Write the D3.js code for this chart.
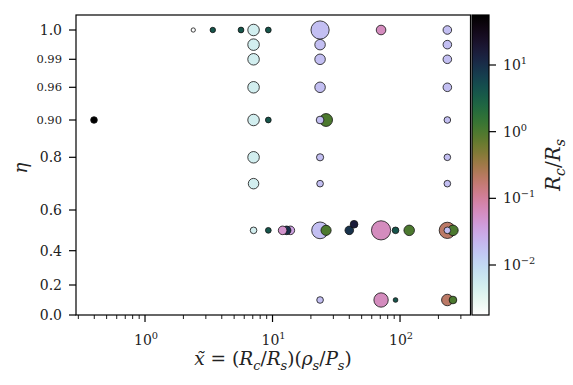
<!DOCTYPE html>
<html>
<head>
<meta charset="utf-8">
<script src="https://cdn.jsdelivr.net/npm/d3@7"></script>
<style>
  body { margin: 0; background: #fff; }
  svg { display: block; }
  text { font-family: "DejaVu Serif", serif; fill: #222; }
</style>
</head>
<body>
<svg id="chart"></svg>
<script>
// x~ = (Rc/Rs)(rho_s/P_s), eta, Rc/Rs (colour), marker size value — in drawing order
const xVals = [2.39, 3.40, 5.66, 7.1, 9.27, 23.6, 71, 235,
  7.1, 23.6, 235, 7.1, 23.6, 235, 7.1, 23.6, 235,
  0.398, 7.1, 9.27, 26.3, 23.6, 235,
  7.1, 23.6, 235, 7.1, 23.6, 235,
  7.1, 9.27, 13.8, 12.9, 12.0, 23.6, 26.3, 40.0, 43.6, 71, 92.2, 118, 235, 260, 235,
  23.6, 71, 92.2, 235, 260];
const etaVals = [1, 1, 1, 1, 1, 1, 1, 1,
  0.995, 0.995, 0.995, 0.99, 0.99, 0.99, 0.96, 0.96, 0.96,
  0.9, 0.9, 0.9, 0.9, 0.9, 0.9,
  0.8, 0.8, 0.8, 0.7, 0.7, 0.7,
  0.5, 0.5, 0.5, 0.5, 0.5, 0.5, 0.5, 0.5, 0.53, 0.5, 0.5, 0.5, 0.5, 0.5, 0.5,
  0.1, 0.1, 0.1, 0.1, 0.1];
const ratioVals = [0.0018, 4.0, 4.0, 0.005, 4.0, 0.018, 0.063, 0.018,
  0.005, 0.018, 0.018, 0.005, 0.018, 0.018, 0.005, 0.018, 0.018,
  56, 0.005, 4.0, 1.0, 0.018, 0.018,
  0.005, 0.018, 0.018, 0.005, 0.018, 0.018,
  0.005, 4.0, 0.035, 10, 0.05, 0.018, 1.0, 9, 16, 0.063, 4.0, 1.0, 0.2, 1.0, 0.018,
  0.018, 0.063, 4.0, 0.2, 1.0];
const sizeVals = [5, 8, 9, 36, 9, 90, 25, 20,
  36, 30, 20, 36, 30, 20, 36, 30, 20,
  12, 36, 9, 45, 16, 12,
  36, 14, 12, 30, 12, 12,
  12, 9, 20, 20, 20, 76, 28, 20, 16, 100, 12, 30, 72, 30, 12,
  12, 56, 6, 36, 16];

const etaTicks = [0, 0.2, 0.4, 0.6, 0.8, 0.9, 0.96, 0.99, 1.0];
const etaLabels = ['0.0', '0.2', '0.4', '0.6', '0.8', '0.90', '0.96', '0.99', '1.0'];
const smallEta = ['0.90', '0.96', '0.99'];
const xTickExp = [0, 1, 2];
const cbTickExp = [-2, -1, 0, 1];
const cbDomainLog = [-2.75, 1.75];

const W = 573, H = 385;
const m = { left: 76, right: 470.5, top: 15, bottom: 315 };
const cb = { left: 472, right: 489 };

const svg = d3.select('#chart').attr('width', W).attr('height', H);

const x = d3.scaleLog().domain([0.2876, 357]).range([m.left, m.right]);
// stretched eta axis, placed through the tick positions
const y = d3.scaleLinear()
  .domain(etaTicks)
  .range([0, 30, 64.3, 105, 157.7, 195, 227.7, 255.7, 285].map(h => m.bottom - h));
const r = d3.scaleSqrt().domain([0, 100]).range([0, 9.6]);
const cLog = d3.scaleLinear().domain(cbDomainLog).range([1, 0]);
const color = v => d3.interpolateCubehelixDefault(cLog(Math.log10(v)));

const points = xVals.map((d, i) => ({ x: d, eta: etaVals[i], c: ratioVals[i], s: sizeVals[i] }));

svg.append('g')
  .selectAll('circle')
  .data(points)
  .join('circle')
  .attr('cx', d => x(d.x))
  .attr('cy', d => y(d.eta))
  .attr('r', d => r(d.s))
  .attr('fill', d => color(d.c))
  .attr('stroke', '#111')
  .attr('stroke-width', 0.8);

// frame
svg.append('rect')
  .attr('x', m.left).attr('y', m.top)
  .attr('width', m.right - m.left).attr('height', m.bottom - m.top)
  .attr('fill', 'none').attr('stroke', '#000').attr('stroke-width', 1.2);

// helper for simple math-like text
function mathText(sel, parts, size) {
  let shift = 0;
  parts.forEach(p => {
    const ts = sel.append('tspan').text(p.t);
    if (p.i) ts.style('font-style', 'italic');
    const target = p.sub ? size * 0.25 : p.sup ? -size * 0.42 : 0;
    if (target !== shift) { ts.attr('dy', target - shift); shift = target; }
    ts.style('font-size', (p.sub || p.sup) ? (size * 0.7) + 'px' : size + 'px');
  });
}

// x axis
const xMajor = xTickExp.map(e => Math.pow(10, e));
const xMinor = [];
for (let e = -1; e <= 2; e++) for (let k = 2; k <= 9; k++) {
  const v = k * Math.pow(10, e);
  if (v > x.domain()[0] && v < x.domain()[1]) xMinor.push(v);
}
const xAxis = svg.append('g');
xAxis.selectAll('line.minor').data(xMinor).join('line')
  .attr('x1', d => x(d)).attr('x2', d => x(d))
  .attr('y1', m.bottom).attr('y2', m.bottom + 4)
  .attr('stroke', '#000').attr('stroke-width', 0.9);
xAxis.selectAll('line.major').data(xMajor).join('line')
  .attr('x1', d => x(d)).attr('x2', d => x(d))
  .attr('y1', m.bottom).attr('y2', m.bottom + 7)
  .attr('stroke', '#000').attr('stroke-width', 1.2);
xTickExp.forEach(e => {
  const t = xAxis.append('text')
    .attr('x', x(Math.pow(10, e)) + 1).attr('y', m.bottom + 30)
    .attr('text-anchor', 'middle');
  mathText(t, [{ t: '10' }, { t: String(e).replace('-', '\u2212'), sup: true }], 14);
});

// y axis
const yAxis = svg.append('g');
yAxis.selectAll('line').data(etaTicks).join('line')
  .attr('x1', m.left - 7).attr('x2', m.left)
  .attr('y1', d => y(d)).attr('y2', d => y(d))
  .attr('stroke', '#000').attr('stroke-width', 1.2);
yAxis.selectAll('text').data(etaTicks).join('text')
  .attr('x', m.left - 14)
  .attr('y', d => y(d))
  .attr('dy', '0.36em')
  .attr('text-anchor', 'end')
  .style('font-size', (d, i) => smallEta.includes(etaLabels[i]) ? '11.5px' : '14px')
  .text((d, i) => etaLabels[i]);

// axis titles
const xt = svg.append('text').attr('x', 273).attr('y', 365).attr('text-anchor', 'middle');
mathText(xt, [
  { t: 'x\u0303', i: true }, { t: ' = (' }, { t: 'R', i: true }, { t: 'c', i: true, sub: true },
  { t: '/' }, { t: 'R', i: true }, { t: 's', i: true, sub: true }, { t: ')(' },
  { t: '\u03c1', i: true }, { t: 's', i: true, sub: true }, { t: '/' },
  { t: 'P', i: true }, { t: 's', i: true, sub: true }, { t: ')' }
], 18.5);

svg.append('text')
  .attr('transform', `translate(27,${(m.top + m.bottom) / 2 + 3}) rotate(-90)`)
  .attr('text-anchor', 'middle')
  .style('font-size', '18px').style('font-style', 'italic')
  .text('\u03b7');

// colorbar
const defs = svg.append('defs');
const grad = defs.append('linearGradient').attr('id', 'cbgrad')
  .attr('x1', 0).attr('y1', 1).attr('x2', 0).attr('y2', 0);
d3.range(0, 1.0001, 0.02).forEach(t => {
  grad.append('stop').attr('offset', t).attr('stop-color', d3.interpolateCubehelixDefault(1 - t));
});
svg.append('rect')
  .attr('x', cb.left).attr('y', m.top)
  .attr('width', cb.right - cb.left).attr('height', m.bottom - m.top)
  .attr('fill', 'url(#cbgrad)').attr('stroke', '#000').attr('stroke-width', 1.2);

const cy = d3.scaleLinear().domain(cbDomainLog).range([m.bottom, m.top]);
const cbAxis = svg.append('g');
cbAxis.selectAll('line').data(cbTickExp).join('line')
  .attr('x1', cb.right).attr('x2', cb.right + 7)
  .attr('y1', d => cy(d)).attr('y2', d => cy(d))
  .attr('stroke', '#000').attr('stroke-width', 1.2);
cbTickExp.forEach(e => {
  const t = cbAxis.append('text')
    .attr('x', cb.right + 14).attr('y', cy(e) + 5);
  mathText(t, [{ t: '10' }, { t: String(e).replace('-', '\u2212'), sup: true }], 14);
});

const cbt = svg.append('text')
  .attr('transform', `translate(560,${(m.top + m.bottom) / 2}) rotate(-90)`)
  .attr('text-anchor', 'middle');
mathText(cbt, [
  { t: 'R', i: true }, { t: 'c', i: true, sub: true }, { t: '/' },
  { t: 'R', i: true }, { t: 's', i: true, sub: true }
], 20);
</script>
</body>
</html>
